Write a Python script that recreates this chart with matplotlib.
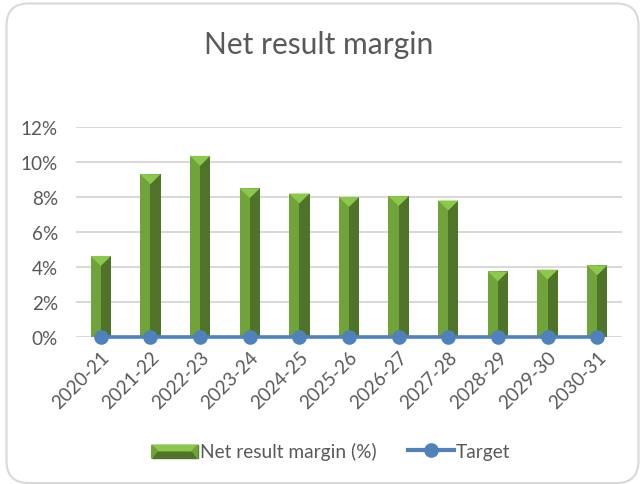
import numpy as np
import matplotlib
matplotlib.use('Agg')
import matplotlib.pyplot as plt
from matplotlib.legend_handler import HandlerBase
from matplotlib.patches import FancyBboxPatch, Patch, Polygon

plt.rcParams['font.family'] = ['Lato', 'DejaVu Sans']

years = ['2020-21', '2021-22', '2022-23', '2023-24', '2024-25', '2025-26',
         '2026-27', '2027-28', '2028-29', '2029-30', '2030-31']
margin = [4.63, 9.3, 10.35, 8.5, 8.2, 8.0, 8.05, 7.8, 3.75, 3.85, 4.1]
target = [0, 0, 0, 0, 0, 0, 0, 0, 0, 0, 0]
y_ticks = [0, 2, 4, 6, 8, 10, 12]

W, H = 641, 485
TEXT = '#595959'
LIGHT, DARK, TOP = '#70A33A', '#4F7329', '#8CC84B'
BLUE = '#4F81BD'


# flat bevelled swatch for the legend
class BevelHandler(HandlerBase):
    def create_artists(self, legend, orig, xd, yd, width, height, fontsize, trans):
        x0, y0 = -xd, -yd - 1
        h = 9.5
        inset = 4
        body = Polygon([(x0, y0), (x0 + width, y0), (x0 + width, y0 + h), (x0, y0 + h)],
                       color=DARK, transform=trans)
        top = Polygon([(x0, y0 + h), (x0 + width, y0 + h), (x0 + width - inset, y0 + h - inset),
                       (x0 + inset, y0 + h - inset)], color=TOP, transform=trans)
        left = Polygon([(x0, y0), (x0, y0 + h), (x0 + inset, y0 + h - inset)],
                       color=LIGHT, transform=trans)
        right = Polygon([(x0 + width, y0), (x0 + width, y0 + h), (x0 + width - inset, y0 + h - inset)],
                        color=LIGHT, transform=trans)
        return [body, top, left, right]


fig = plt.figure(figsize=(W / 100, H / 100), dpi=100)

# rounded chart frame, behind the axes
frame = FancyBboxPatch((6.5, 1), 632, 479.5, boxstyle='round,pad=0,rounding_size=22',
                       transform=None, fc='white', ec='#D9D9D9', lw=1.5, zorder=-1)
fig.add_artist(frame)

ax = fig.add_axes([76 / W, 1 - 338 / H, 546 / W, 210 / H])
ax.patch.set_alpha(0)

x = np.arange(len(years))
bar_w = 0.41
margin = np.array(margin)
ax.bar(x - bar_w / 4, margin, bar_w / 2, color=LIGHT, zorder=2)
ax.bar(x + bar_w / 4, margin, bar_w / 2, color=DARK, zorder=2)

# top facet of each bar, depth is 10 px (0.57 on the value axis)
for xi, v in zip(x, margin):
    ax.fill([xi - bar_w / 2, xi + bar_w / 2, xi], [v, v, v - 0.57], color=TOP, lw=0, zorder=3)

ax.plot(x, target, color=BLUE, lw=2.6, marker='o', ms=9.5, clip_on=False, zorder=4)

ax.set_xlim(-0.5, len(years) - 0.5)
ax.set_ylim(0, 12)
ax.set_yticks(y_ticks)
ax.set_yticklabels([f'{t}%' for t in y_ticks], fontsize=13.6, color=TEXT)
ax.set_xticks(x)
ax.set_xticklabels(years, rotation=45, ha='right', va='top', rotation_mode='anchor',
                   fontsize=13.6, color=TEXT)
ax.tick_params(axis='both', length=0)
ax.tick_params(axis='y', pad=13)
ax.tick_params(axis='x', pad=8)
ax.grid(axis='y', color='#D9D9D9', lw=1.5, zorder=0)
ax.set_axisbelow(True)
for s in ax.spines.values():
    s.set_visible(False)

fig.text(319 / W, 1 - 45 / H, 'Net result margin', ha='center', va='center',
         fontsize=21.6, color=TEXT)

bar_key = Patch(color=DARK)
line_key = plt.Line2D([], [], color=BLUE, lw=3, marker='o', ms=9.5)
fig.legend([bar_key, line_key], ['Net result margin (%)', 'Target'],
           handler_map={bar_key: BevelHandler()},
           loc='center', bbox_to_anchor=(331 / W, 1 - 452 / H), ncol=2, frameon=False,
           fontsize=13.8, labelcolor=TEXT, handlelength=2.4, handletextpad=0.1, columnspacing=1.65)

fig.savefig('out.png', dpi=100)
